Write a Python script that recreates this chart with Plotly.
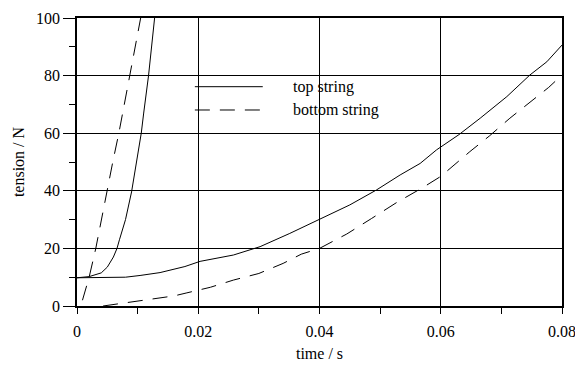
import plotly.graph_objects as go

# top string, fast run
top_fast_t = [0.0, 0.002, 0.004, 0.005, 0.006, 0.0066, 0.007, 0.008, 0.009, 0.010, 0.0106, 0.011, 0.0118, 0.0128]
top_fast_v = [9.8, 10.2, 11.5, 13.5, 17.0, 20.0, 23.0, 30.0, 39.6, 52.0, 60.0, 67.0, 80.0, 100.0]

# bottom string, fast run
bot_fast_t = [0.0009, 0.002, 0.0031, 0.004, 0.0049, 0.0059, 0.0069, 0.0078, 0.0086, 0.0096, 0.0105]
bot_fast_v = [2.0, 10.0, 20.0, 30.0, 40.0, 50.0, 60.0, 70.0, 80.0, 90.0, 100.0]

# top string, slow run
top_slow_t = [0.0, 0.004, 0.008, 0.0104, 0.0137, 0.0178, 0.0203, 0.0258, 0.0302, 0.0351, 0.040, 0.045,
              0.0494, 0.0533, 0.0566, 0.0593, 0.063, 0.0665, 0.0709, 0.0747, 0.0775, 0.080]
top_slow_v = [9.8, 9.8, 10.0, 10.6, 11.6, 13.7, 15.5, 17.7, 20.6, 25.2, 30.0, 35.1,
              40.3, 45.5, 49.5, 54.2, 59.5, 65.2, 72.7, 80.2, 84.8, 90.6]

# bottom string, slow run
bot_slow_t = [0.0043, 0.006, 0.008, 0.010, 0.012, 0.014, 0.016, 0.018, 0.020, 0.022, 0.0258, 0.030,
              0.034, 0.037, 0.040, 0.0445, 0.0486, 0.0527, 0.0571, 0.060, 0.0648, 0.068, 0.0714,
              0.0742, 0.0778, 0.080]
bot_slow_v = [0.0, 0.5, 1.2, 1.8, 2.2, 3.0, 3.5, 4.5, 5.5, 6.5, 9.0, 11.3,
              14.8, 18.0, 20.0, 25.0, 30.4, 35.9, 41.2, 45.0, 53.6, 59.0, 65.2,
              69.8, 75.9, 80.2]

x_tick_vals = [0, 0.02, 0.04, 0.06, 0.08]
x_tick_text = ["0", "0.02", "0.04", "0.06", "0.08"]
y_tick_vals = [0, 20, 40, 60, 80, 100]
y_tick_text = ["0", "20", "40", "60", "80", "100"]

legend_labels = ["top string", "bottom string"]

FONT = "Liberation Serif, Times New Roman, serif"
solid = dict(color="black", width=1)
dashed = dict(color="black", width=1, dash="15px,10px")

fig = go.Figure()
fig.add_trace(go.Scatter(x=top_fast_t, y=top_fast_v, mode="lines", line=solid, showlegend=False, name=legend_labels[0]))
fig.add_trace(go.Scatter(x=top_slow_t, y=top_slow_v, mode="lines", line=solid, showlegend=False, name=legend_labels[0]))
fig.add_trace(go.Scatter(x=bot_fast_t, y=bot_fast_v, mode="lines", line=dashed, showlegend=False, name=legend_labels[1]))
fig.add_trace(go.Scatter(x=bot_slow_t, y=bot_slow_v, mode="lines", line=dashed, showlegend=False, name=legend_labels[1]))

# manual legend: white box covering grid, line samples and labels
fig.add_shape(type="rect", xref="paper", yref="paper", x0=0.1835, x1=0.6433, y0=0.565, y1=0.8775,
              fillcolor="white", line=dict(width=0), layer="between")
fig.add_shape(type="line", xref="paper", yref="paper", x0=0.243, x1=0.383, y0=0.7615, y1=0.7615,
              line=solid, layer="above")
fig.add_shape(type="line", xref="paper", yref="paper", x0=0.243, x1=0.383, y0=0.6806, y1=0.6806,
              line=dashed, layer="above")
fig.add_annotation(xref="paper", yref="paper", x=0.442, y=0.7615, text=legend_labels[0], showarrow=False,
                   xanchor="left", yanchor="middle", font=dict(family=FONT, size=16, color="black"))
fig.add_annotation(xref="paper", yref="paper", x=0.442, y=0.6806, text=legend_labels[1], showarrow=False,
                   xanchor="left", yanchor="middle", font=dict(family=FONT, size=16, color="black"))

# page body has an 8px default margin, so the figure is sized/margined to compensate
fig.update_layout(
    width=575, height=357,
    margin=dict(l=69, r=21, t=10, b=59, pad=0, autoexpand=False),
    paper_bgcolor="white", plot_bgcolor="white",
    font=dict(family=FONT, size=16, color="black"),
    showlegend=False,
)
fig.update_xaxes(
    range=[0, 0.08], tickmode="array", tickvals=x_tick_vals, ticktext=x_tick_text,
    showline=True, linecolor="black", linewidth=1.5, mirror=True, automargin=False,
    ticks="outside", ticklen=6, tickwidth=1, tickcolor="black", ticklabelstandoff=4,
    showgrid=True, gridcolor="black", gridwidth=1, zeroline=False,
    minor=dict(dtick=0.01, tick0=0, ticks="outside", ticklen=6, tickcolor="black", showgrid=False),
    title=dict(text="time / s", standoff=9, font=dict(family=FONT, size=16)),
    tickfont=dict(family=FONT, size=16),
)
fig.update_yaxes(
    range=[0, 100], tickmode="array", tickvals=y_tick_vals, ticktext=y_tick_text,
    showline=True, linecolor="black", linewidth=1.5, mirror=True, automargin=False,
    ticks="outside", ticklen=12, tickwidth=1, tickcolor="black",
    showgrid=True, gridcolor="black", gridwidth=1, zeroline=False,
    minor=dict(dtick=10, tick0=0, ticks="outside", ticklen=6, tickcolor="black", showgrid=False),
    title=dict(text="tension / N", standoff=7, font=dict(family=FONT, size=16)),
    tickfont=dict(family=FONT, size=16),
)

fig.write_html("out.html")
